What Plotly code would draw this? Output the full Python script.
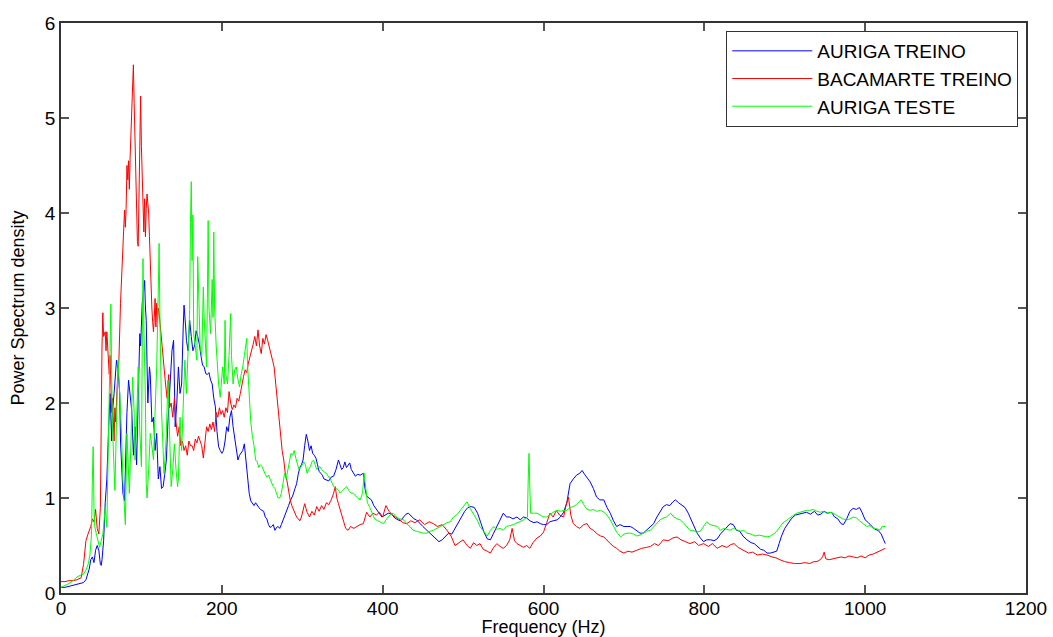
import plotly.graph_objects as go

# ---- AURIGA TREINO (blue) ----
blue_freq = [0,5,10,15,20,25,28,31,33,35,37,39,41,43,45,47,49,50,51,53,55,57,59,60,61,63,64,66,68,69,71,73,74,76,77,79,80,82,84,86,88,90,92,94,96,98,99,101,103,104,105,106,107,108,110,111,113,115,117,119,121,123,125,127,129,131,133,135,136,138,140,141,142,144,146,148,150,152,153,155,156,158,160,162,164,166,168,170,172,174,176,178,180,182,184,186,188,190,192,194,196,198,200,202,204,206,208,210,212,214,216,218,220,222,224,226,228,230,232,234,236,238,240,242,244,246,248,250,252,254,256,258,260,262,264,266,268,270,272,274,276,278,280,283,285,288,291,293,295,297,299,301,303,305,307,309,311,313,315,317,319,321,323,325,327,330,333,336,339,342,345,347,349,351,353,355,357,359,361,363,366,369,372,376,378,380,383,386,389,392,396,399,403,407,411,415,419,422,426,429,432,436,439,442,446,450,455,460,465,470,474,478,482,486,490,494,498,502,506,510,514,518,522,526,530,534,538,542,546,550,554,558,562,567,571,575,579,583,588,592,596,600,604,608,612,617,621,625,629,633,637,641,645,648,651,654,658,662,666,670,675,679,683,687,691,695,700,704,708,712,716,720,724,728,733,737,741,745,749,753,757,761,764,768,772,776,780,783,787,791,795,799,803,808,812,816,820,824,828,832,836,840,844,848,853,858,862,866,870,874,878,882,886,890,893,896,900,904,908,913,918,923,927,932,937,941,945,949,953,958,962,966,970,973,977,981,985,989,993,996,1000,1004,1008,1012,1016,1020,1023,1025]
blue_psd = [0.06,0.06,0.07,0.08,0.09,0.1,0.11,0.14,0.2,0.25,0.35,0.38,0.32,0.45,0.5,0.45,0.3,0.29,0.35,0.55,0.95,1.2,1.68,2.0,2.1,1.6,1.92,2.1,2.3,2.45,2.35,2.1,1.6,1.3,1.05,0.97,1.4,1.9,2.24,2.1,1.92,1.45,1.75,1.35,2.2,2.73,2.6,3.05,3.2,3.29,3.0,2.87,2.4,2.0,2.38,2.3,1.8,1.85,1.5,1.68,1.2,1.33,1.1,1.12,1.25,1.4,1.8,2.1,2.38,2.55,2.66,2.2,1.75,2.0,2.38,2.1,2.2,2.8,3.03,2.8,2.66,2.55,2.87,2.7,2.55,2.6,2.76,2.7,2.62,2.5,2.4,2.38,2.31,2.3,2.32,2.24,2.2,2.05,1.96,1.7,1.54,1.5,1.47,1.5,1.6,1.75,1.7,1.85,1.92,1.75,1.64,1.5,1.4,1.45,1.47,1.5,1.57,1.4,1.2,1.05,0.97,0.94,0.92,0.95,0.92,0.9,0.88,0.87,0.86,0.8,0.78,0.72,0.69,0.7,0.72,0.66,0.69,0.7,0.68,0.72,0.76,0.8,0.85,0.92,0.97,1.02,1.1,1.15,1.25,1.32,1.35,1.4,1.55,1.67,1.6,1.5,1.55,1.47,1.45,1.42,1.35,1.28,1.26,1.24,1.2,1.19,1.18,1.22,1.23,1.3,1.4,1.35,1.3,1.32,1.38,1.32,1.35,1.37,1.3,1.27,1.23,1.25,1.24,1.26,1.1,1.02,1.0,0.98,0.92,0.88,0.84,0.8,0.82,0.84,0.83,0.79,0.77,0.76,0.8,0.83,0.84,0.8,0.78,0.77,0.74,0.7,0.66,0.62,0.58,0.54,0.56,0.6,0.63,0.62,0.68,0.74,0.8,0.86,0.9,0.91,0.9,0.84,0.74,0.64,0.57,0.56,0.63,0.7,0.76,0.84,0.8,0.8,0.78,0.8,0.77,0.8,0.79,0.76,0.74,0.75,0.73,0.72,0.72,0.75,0.76,0.77,0.8,0.85,0.95,1.15,1.2,1.24,1.26,1.29,1.25,1.22,1.17,1.1,1.01,0.98,0.98,0.9,0.84,0.76,0.7,0.72,0.7,0.7,0.7,0.68,0.65,0.63,0.63,0.66,0.7,0.73,0.8,0.86,0.91,0.93,0.92,0.96,0.98,0.95,0.92,0.9,0.84,0.78,0.7,0.63,0.58,0.54,0.56,0.56,0.55,0.57,0.62,0.66,0.7,0.73,0.72,0.66,0.65,0.6,0.56,0.53,0.52,0.49,0.46,0.45,0.42,0.42,0.43,0.44,0.52,0.6,0.68,0.73,0.78,0.82,0.83,0.84,0.85,0.83,0.86,0.82,0.83,0.86,0.84,0.85,0.8,0.78,0.73,0.72,0.78,0.86,0.89,0.88,0.9,0.85,0.77,0.74,0.7,0.67,0.66,0.62,0.56,0.52]

# ---- BACAMARTE TREINO (red) ----
red_freq = [0,5,10,15,20,25,28,31,34,37,39,41,43,45,47,49,51,52,53,55,56,57,58,60,61,62,63,64,65,66,67,68,70,72,74,76,78,79,80,81,82,83,84,85,86,87,88,89,90,91,92,93,94,95,96,97,98,99,100,101,102,103,104,105,106,107,108,109,110,111,112,113,114,115,116,117,118,119,120,121,122,124,126,128,130,132,134,135,137,139,141,143,145,147,149,151,153,155,157,159,161,163,165,167,169,171,173,175,177,179,181,183,185,187,189,191,193,195,197,199,201,203,205,207,209,211,213,215,217,219,221,223,225,227,229,231,233,235,237,239,241,243,245,247,249,251,253,255,257,259,261,263,265,267,269,271,273,275,277,279,281,283,285,287,289,291,293,295,297,299,301,303,306,309,312,315,318,321,324,327,330,333,336,339,341,343,345,348,351,354,357,360,364,368,372,376,380,384,388,392,396,400,404,408,412,416,420,425,430,435,440,446,452,458,463,468,474,480,485,490,495,500,505,509,513,517,521,525,530,534,538,542,546,550,554,558,561,564,567,571,575,579,583,587,592,596,600,604,608,612,616,620,625,628,631,634,637,641,645,650,654,658,662,667,671,675,679,683,687,691,695,700,705,710,716,722,728,733,738,743,749,755,761,766,771,776,782,788,793,799,805,810,816,822,828,833,837,842,846,850,855,860,866,872,878,884,889,894,900,906,912,919,925,931,936,940,944,947,949,951,955,960,965,970,975,980,985,990,995,1000,1005,1010,1015,1020,1025]
red_psd = [0.12,0.12,0.13,0.13,0.14,0.16,0.3,0.55,0.63,0.7,0.78,0.75,0.88,0.68,0.62,0.9,2.6,2.95,2.7,2.75,2.55,2.75,2.6,2.3,2.5,2.1,1.9,2.05,1.65,1.6,1.95,1.8,2.2,2.45,3.05,3.4,3.9,4.03,3.85,4.05,4.5,4.35,4.55,4.25,4.6,4.85,4.9,5.3,5.56,5.15,4.7,4.2,3.95,3.7,3.65,4.2,5.05,5.23,4.7,4.3,3.85,3.8,4.15,3.75,4.05,4.2,4.1,4.0,3.75,3.45,3.25,3.0,2.85,2.75,2.9,3.1,2.8,3.05,2.85,3.0,2.95,2.75,2.55,2.35,2.2,2.05,2.3,1.95,2.0,1.85,2.05,1.8,1.65,1.75,1.55,1.6,1.5,1.55,1.45,1.6,1.55,1.55,1.5,1.62,1.58,1.65,1.6,1.55,1.42,1.6,1.75,1.7,1.78,1.72,1.8,1.7,1.9,1.85,1.95,1.88,1.92,1.85,1.95,1.9,2.12,2.0,1.93,1.98,1.95,2.05,2.02,2.1,2.2,2.28,2.35,2.32,2.42,2.48,2.55,2.62,2.7,2.6,2.77,2.6,2.52,2.68,2.62,2.72,2.66,2.58,2.5,2.45,2.38,2.2,2.1,1.9,1.7,1.5,1.4,1.25,1.18,1.05,0.98,0.92,0.88,0.84,0.8,0.78,0.76,0.8,0.88,0.94,0.85,0.8,0.86,0.82,0.91,0.86,0.92,0.88,0.95,0.93,0.98,1.05,1.12,1.0,0.94,0.86,0.78,0.68,0.66,0.7,0.68,0.7,0.72,0.73,0.85,0.8,0.84,0.82,0.85,0.8,0.92,0.86,0.82,0.8,0.78,0.74,0.73,0.76,0.74,0.77,0.72,0.75,0.73,0.7,0.72,0.66,0.6,0.5,0.53,0.56,0.5,0.47,0.53,0.5,0.52,0.46,0.44,0.42,0.48,0.52,0.49,0.47,0.5,0.56,0.68,0.55,0.52,0.5,0.48,0.5,0.47,0.53,0.58,0.6,0.64,0.74,0.84,0.8,0.87,0.82,0.8,0.92,1.01,0.82,0.73,0.7,0.68,0.72,0.73,0.68,0.66,0.62,0.6,0.59,0.55,0.52,0.49,0.47,0.44,0.42,0.44,0.43,0.45,0.47,0.48,0.49,0.52,0.5,0.56,0.55,0.58,0.59,0.56,0.54,0.52,0.54,0.5,0.52,0.49,0.52,0.47,0.5,0.48,0.51,0.52,0.48,0.46,0.44,0.42,0.43,0.4,0.41,0.4,0.38,0.37,0.35,0.33,0.32,0.31,0.31,0.32,0.31,0.33,0.33,0.35,0.38,0.43,0.36,0.35,0.36,0.37,0.38,0.37,0.39,0.38,0.37,0.39,0.37,0.4,0.41,0.43,0.45,0.47]

# ---- AURIGA TESTE (green) ----
green_freq = [0,5,10,15,20,25,28,31,34,36,38,39,40,41,42,44,46,48,50,52,53,55,57,58,59,61,62,63,64,66,67,69,71,73,75,77,79,80,82,83,85,87,89,91,92,94,96,98,100,101,102,103,105,106,107,109,111,113,115,117,119,121,122,123,125,127,128,130,131,133,135,137,139,141,143,145,146,148,150,152,154,156,158,160,161,162,163,164,165,167,169,170,171,173,175,177,178,180,181,182,183,184,186,188,189,190,191,193,194,196,198,200,201,203,204,205,207,209,211,212,214,216,218,220,222,224,226,228,230,231,232,234,236,238,240,242,244,246,248,250,252,254,256,258,260,262,264,266,268,270,272,274,276,278,280,282,284,286,288,290,292,294,296,298,300,302,304,306,308,310,312,314,316,318,320,322,324,326,328,330,333,336,339,342,345,347,350,353,355,358,361,363,366,369,372,375,377,379,381,384,387,390,394,398,401,405,409,413,417,421,426,430,434,438,442,446,450,455,459,463,467,471,475,480,484,488,492,496,500,503,505,508,511,514,518,521,525,530,534,538,542,546,550,554,558,563,567,571,575,578,580,581,582,583,584,588,592,596,600,604,608,612,617,621,625,629,633,637,641,645,647,650,654,658,662,666,671,675,679,683,687,691,696,700,704,708,712,716,720,724,728,733,737,741,745,749,753,758,762,766,770,774,778,782,786,790,795,799,803,807,812,816,820,824,828,832,836,840,845,849,853,858,863,868,873,878,882,886,890,894,898,903,907,911,915,919,923,927,931,935,940,944,948,952,956,960,964,968,972,977,981,985,989,993,997,1002,1006,1010,1014,1018,1021,1025]
green_psd = [0.06,0.08,0.1,0.13,0.17,0.19,0.2,0.24,0.31,0.4,0.62,1.2,1.54,0.9,0.7,0.62,0.55,0.48,0.55,0.62,0.7,0.9,0.69,1.1,1.5,2.4,3.04,2.3,1.75,1.3,1.08,1.8,2.45,2.1,1.75,1.2,0.8,0.72,1.68,1.4,1.05,1.6,2.27,1.9,1.4,1.8,2.38,1.7,1.33,2.6,3.52,2.8,2.03,1.15,1.0,1.3,1.68,1.55,1.4,1.9,2.38,3.2,3.68,2.9,1.92,1.5,1.26,1.5,1.68,2.24,1.6,1.12,1.3,1.57,1.3,1.12,1.2,1.85,1.5,1.9,2.45,2.1,2.5,2.98,3.9,4.33,3.5,3.98,2.73,2.6,2.45,3.54,3.1,2.6,2.48,3.22,2.9,2.5,2.38,3.1,3.92,3.0,2.73,3.3,2.9,3.8,3.0,2.6,2.41,2.2,2.06,2.28,2.38,2.2,2.87,2.3,2.2,2.5,2.94,2.5,2.2,2.35,2.38,2.25,2.17,2.3,2.38,2.5,2.6,2.68,2.4,2.03,1.8,1.65,1.55,1.4,1.38,1.32,1.35,1.33,1.28,1.25,1.22,1.24,1.2,1.15,1.12,1.1,1.05,1.0,1.0,1.05,1.15,1.26,1.2,1.3,1.4,1.47,1.45,1.5,1.42,1.36,1.3,1.32,1.36,1.38,1.35,1.26,1.3,1.33,1.38,1.4,1.35,1.3,1.32,1.33,1.3,1.28,1.27,1.26,1.22,1.18,1.12,1.1,1.08,1.05,1.08,1.1,1.12,1.08,1.05,1.05,1.02,1.0,0.98,1.05,1.26,1.1,0.95,0.9,0.84,0.78,0.76,0.74,0.73,0.78,0.82,0.84,0.8,0.78,0.77,0.73,0.7,0.66,0.65,0.64,0.63,0.63,0.65,0.66,0.68,0.7,0.72,0.74,0.75,0.8,0.82,0.86,0.9,0.94,0.96,0.9,0.86,0.82,0.76,0.7,0.65,0.6,0.66,0.7,0.67,0.68,0.66,0.7,0.71,0.72,0.74,0.75,0.77,0.79,0.8,1.2,1.47,1.1,0.84,0.84,0.84,0.82,0.8,0.8,0.83,0.85,0.87,0.86,0.87,0.87,0.9,0.91,0.93,0.97,0.98,0.93,0.88,0.87,0.88,0.86,0.87,0.85,0.82,0.77,0.7,0.64,0.59,0.62,0.63,0.63,0.62,0.6,0.61,0.63,0.65,0.66,0.7,0.74,0.77,0.79,0.8,0.84,0.8,0.78,0.77,0.74,0.7,0.66,0.66,0.64,0.65,0.7,0.75,0.72,0.71,0.7,0.66,0.68,0.67,0.66,0.68,0.67,0.65,0.66,0.63,0.62,0.6,0.61,0.6,0.59,0.6,0.62,0.65,0.7,0.74,0.77,0.8,0.82,0.84,0.85,0.86,0.87,0.87,0.88,0.86,0.85,0.86,0.84,0.85,0.84,0.82,0.8,0.78,0.77,0.78,0.8,0.79,0.76,0.73,0.7,0.71,0.68,0.68,0.66,0.7,0.7]

series_names = ["AURIGA TREINO", "BACAMARTE TREINO", "AURIGA TESTE"]
series_colors = ["#0000FF", "#FF0000", "#00FF00"]
x_ticks = [0, 200, 400, 600, 800, 1000, 1200]
y_ticks = [0, 1, 2, 3, 4, 5, 6]

FONT = "Liberation Sans, Arial, sans-serif"

fig = go.Figure()
for fx, fy, name, col in zip([blue_freq, red_freq, green_freq],
                             [blue_psd, red_psd, green_psd],
                             series_names, series_colors):
    fig.add_trace(go.Scatter(x=fx, y=fy, mode="lines", name=name,
                             line=dict(color=col, width=1)))

axis_common = dict(showgrid=False, zeroline=False, showline=True, linecolor="#333333",
                   linewidth=1.5, mirror="ticks", ticks="inside", ticklen=8,
                   tickcolor="#555555", tickwidth=1.5, automargin=False,
                   tickfont=dict(family=FONT, size=19, color="#000000"))

fig.update_layout(
    width=1053, height=637,
    margin=dict(l=61, r=27, t=23, b=44),
    paper_bgcolor="white", plot_bgcolor="white",
    font=dict(family=FONT, color="#000000"),
    xaxis=dict(range=[0, 1200], tickvals=x_ticks, ticktext=[str(v) for v in x_ticks],
               ticklabelstandoff=-3,
               title=dict(text="Frequency (Hz)", font=dict(family=FONT, size=18), standoff=14),
               **axis_common),
    yaxis=dict(range=[0, 6], tickvals=y_ticks, ticktext=[str(v) for v in y_ticks],
               title=dict(text="Power Spectrum density", font=dict(family=FONT, size=18), standoff=16),
               **axis_common),
    legend=dict(x=0.992, y=0.986, xanchor="right", yanchor="top",
                bgcolor="white", bordercolor="#333333", borderwidth=1,
                font=dict(family=FONT, size=19, color="#000000"),
                itemwidth=80, tracegroupgap=0),
    showlegend=True,
)

fig.write_html("out.html")
